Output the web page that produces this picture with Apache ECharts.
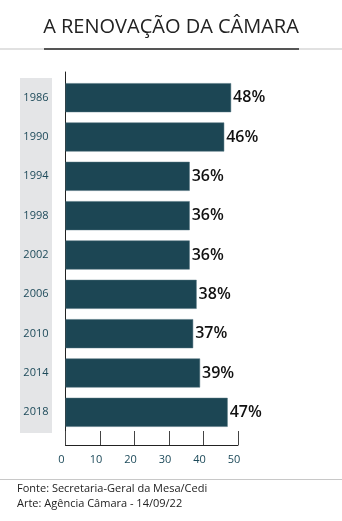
<!DOCTYPE html>
<html>
<head>
<meta charset="utf-8">
<script src="https://cdn.jsdelivr.net/npm/echarts@6/dist/echarts.min.js"></script>
<style>
  html, body { margin: 0; padding: 0; background: #fff; }
  #chart { width: 342px; height: 521px; }
</style>
</head>
<body>
<div id="chart"></div>
<script>
// Renewal rate of the Chamber of Deputies per election year
const years = ['1986', '1990', '1994', '1998', '2002', '2006', '2010', '2014', '2018'];
const renewal = [48, 46, 36, 36, 36, 38, 37, 39, 47];
const xTicks = [0, 10, 20, 30, 40, 50];

const FONT = '"Open Sans", "Noto Sans", sans-serif';
const TEAL = '#1c4654';

const chart = echarts.init(document.getElementById('chart'), null, { renderer: 'canvas' });

chart.setOption({
  animation: false,
  backgroundColor: '#ffffff',
  title: [
    {
      text: 'A RENOVAÇÃO DA CÂMARA',
      left: 'center',
      top: 12,
      textStyle: { fontFamily: FONT, fontSize: 20, fontWeight: 'normal', color: '#222' }
    }
  ],
  graphic: [
    // rule under the title
    { type: 'rect', shape: { x: 0, y: 48.5, width: 342, height: 1 }, style: { fill: '#c4c4c4' }, silent: true },
    { type: 'rect', shape: { x: 44, y: 48, width: 255, height: 2 }, style: { fill: '#555' }, silent: true },
    // panel behind the year labels
    { type: 'rect', shape: { x: 20, y: 78, width: 32, height: 355 }, style: { fill: '#e4e5e7' }, silent: true, z: -1 },
    // footer rule and credits
    { type: 'rect', shape: { x: 0, y: 479, width: 342, height: 1 }, style: { fill: '#c8c8c8' }, silent: true },
    { type: 'text', left: 17, top: 483, style: { text: 'Fonte: Secretaria-Geral da Mesa/Cedi', font: '11px ' + FONT, fill: '#222' } },
    { type: 'text', left: 17, top: 498.5, style: { text: 'Arte: Agência Câmara - 14/09/22', font: '11px ' + FONT, fill: '#222' } }
  ],
  grid: [
    // bars
    { left: 65.5, right: 104, top: 78, bottom: 89, containLabel: false },
    // frame: axis lines and value scale
    { left: 65.5, right: 104, top: 72, bottom: 76, containLabel: false }
  ],
  xAxis: [
    { gridIndex: 0, type: 'value', min: 0, max: 50, show: false },
    {
      gridIndex: 1, type: 'value', min: 0, max: 50, interval: 10,
      axisLine: { show: true, lineStyle: { color: '#222', width: 1 } },
      axisTick: { show: true, inside: true, length: 14, lineStyle: { color: '#444', width: 1 } },
      splitLine: { show: false },
      axisLabel: {
        margin: 9, fontFamily: FONT, fontSize: 11, color: '#1d4a5a',
        padding: [0, 8, 0, 0],
        formatter: v => (xTicks.indexOf(v) >= 0 ? String(v) : '')
      }
    }
  ],
  yAxis: [
    {
      gridIndex: 0, type: 'category', data: years, inverse: true,
      axisLine: { show: false }, axisTick: { show: false },
      axisLabel: { margin: 17, fontFamily: FONT, fontSize: 11, color: '#1d4a5a' }
    },
    {
      gridIndex: 1, type: 'value', min: 0, max: 1,
      axisLine: { show: true, lineStyle: { color: '#222', width: 1 } },
      axisTick: { show: false }, axisLabel: { show: false }, splitLine: { show: false }
    }
  ],
  series: [
    {
      type: 'bar',
      xAxisIndex: 0, yAxisIndex: 0,
      data: renewal,
      barWidth: 29,
      itemStyle: { color: TEAL, borderColor: '#4d6f7b', borderWidth: 0.5 },
      label: {
        show: true, position: 'right', distance: 2,
        formatter: p => p.value + '%',
        fontFamily: FONT, fontSize: 16, fontWeight: 600, color: '#111'
      }
    }
  ]
});
</script>
</body>
</html>
